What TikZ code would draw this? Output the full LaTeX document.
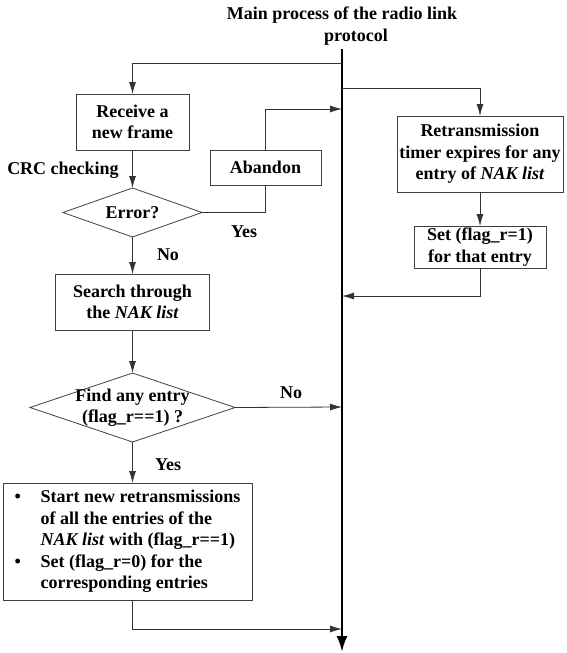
\documentclass[tikz,border=0pt]{standalone}
\usepackage{fontspec}
\setmainfont{Liberation Serif}
\usetikzlibrary{arrows.meta,positioning,shapes.geometric}
\tikzset{
	procbox/.style={
		draw=black!75, line width=0.8pt, rectangle,
		align=center, inner sep=2pt, outer sep=0pt
	},
	decision/.style={
		draw=black!75, line width=0.8pt, diamond, aspect=3,
		align=center, inner sep=-15pt, outer sep=0pt
	},
	note/.style={inner sep=0pt},
	flow/.style={draw=black!80, line width=0.8pt, -{Latex[length=12pt,width=7pt]}},
	link/.style={draw=black!80, line width=0.8pt},
	mainflow/.style={line width=2.4pt, -{Latex[length=16pt,width=11pt]}}
}

\begin{document}
\begin{tikzpicture}[x=1pt,y=-1pt,font=\fontsize{18}{21.5}\selectfont\bfseries]
				\useasboundingbox (0,0) rectangle (566,653);
				\node[align=center] (title) at (342,26) {Main process of the radio link\\\hspace*{28pt}protocol};
				% points on the main line
				\coordinate (m1) at (342,63);
				\coordinate (m2) at (342,88);
				\coordinate (m3) at (342,109);
				\coordinate (m4) at (342,296);
				\coordinate (m5) at (342,407);
				\coordinate (m6) at (342,629);
				\coordinate (sink) at (342,652);
				\node[procbox, minimum width=113pt, minimum height=56pt] (recv) at (132.5,122) {Receive a\\new frame};
				\node[decision, minimum width=139pt, minimum height=49pt] (err) [below=38pt of recv] {Error?};
				\node[procbox, minimum width=154pt, minimum height=56pt] (search) [below=37pt of err] {Search through\\the \textit{NAK list}};
				\node[decision, minimum width=205pt, minimum height=69pt] (find) [below=43pt of search] {Find any entry\\(flag\_r==1) ?};
				\node[procbox, minimum width=249pt, minimum height=117pt] (tasks) [below=41pt of find, xshift=-5pt] {%
					\begin{tabular}{@{}p{26pt}@{}l@{}}
						\textbullet & Start new retransmissions\\
						& of all the entries of the\\
						& \textit{NAK list} with (flag\_r==1)\\
						\textbullet & Set (flag\_r=0) for the\\
						& corresponding entries
					\end{tabular}};
				\node[procbox, minimum width=111pt, minimum height=35pt] (abandon) at (265.5,167.5) {Abandon};
				\node[procbox, minimum width=166pt, minimum height=76pt] (retx) at (480,154) {Retransmission\\timer expires for any\\entry of \textit{NAK list}};
				\node[procbox, minimum width=132pt, minimum height=42pt] (setflag) [below=34pt of retx] {Set (flag\_r=1)\\for that entry};
				\node[note] (crc) at (63,170) {CRC checking};
				\node[note] (yes1) at (244,232) {Yes};
				\node[note] (no1) at (168,255) {No};
				\node[note] (no2) at (291,393) {No};
				\node[note] (yes2) at (168,465) {Yes};
				\draw[mainflow] (title.south) -- (sink);
				\draw[flow] (m1) -| (recv.north);
				\draw[flow] (m2) -| (retx.north);
				\draw[flow] (recv) -- (err);
				\draw[link] (err.east) -| (abandon.south);
				\draw[flow] (abandon.north) |- (m3);
				\draw[flow] (err) -- (search);
				\draw[flow] (search) -- (find);
				\draw[flow] (find.east) -- (m5);
				\draw[flow] (find.south) -- (find.south |- tasks.north);
				\draw[flow] (tasks.south -| find.south) |- (m6);
				\draw[flow] (retx) -- (setflag);
				\draw[flow] (setflag.south) |- (m4);
			\end{tikzpicture}
\end{document}
